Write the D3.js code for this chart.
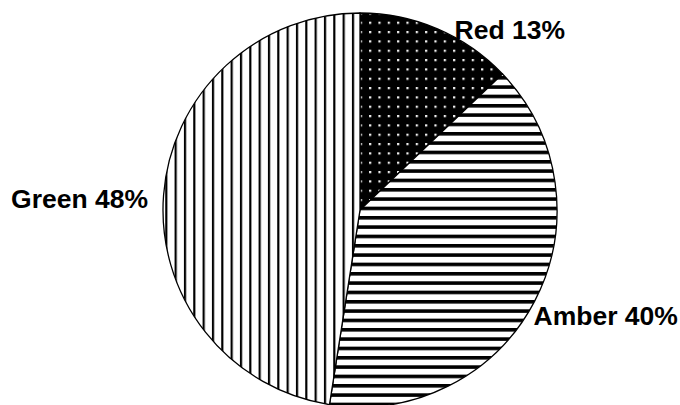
<!DOCTYPE html>
<html>
<head>
<meta charset="utf-8">
<script src="https://cdn.jsdelivr.net/npm/d3@7"></script>
<style>
  html, body { margin: 0; padding: 0; background: #fff; }
  svg { display: block; }
</style>
</head>
<body>
<svg id="chart" width="680" height="405"></svg>
<script>
// ---- data ----
const categories = ["Red", "Amber", "Green"];
const values = [13, 40, 48];
const labels = ["Red 13%", "Amber 40%", "Green 48%"];

// ---- layout ----
const W = 680, H = 405;
const cx = 360, cy = 210, R = 197;
const period = 28 / 3;
// label offsets relative to rim point at slice mid-angle: [dx, dy, anchor]
const labelLayout = [[17, 10, "start"], [-1, 24, "start"], [-15.5, 13.5, "end"]];

const svg = d3.select("#chart");
const defs = svg.append("defs");

// Red: black with white dots
const pDots = defs.append("pattern").attr("id", "pDots")
  .attr("patternUnits", "userSpaceOnUse")
  .attr("x", 382.4).attr("y", 45).attr("width", period).attr("height", period);
pDots.append("rect").attr("width", period).attr("height", period).attr("fill", "#000");
pDots.append("rect").attr("x", 0).attr("y", 0).attr("width", 2.2).attr("height", 2.2).attr("fill", "#f2f2f2");

// Amber: horizontal stripes
const pH = defs.append("pattern").attr("id", "pH")
  .attr("patternUnits", "userSpaceOnUse")
  .attr("x", 0).attr("y", 183.3).attr("width", period).attr("height", period);
pH.append("rect").attr("width", period).attr("height", period).attr("fill", "#fff");
pH.append("rect").attr("x", 0).attr("y", 0).attr("width", period).attr("height", 3.6).attr("fill", "#000");

// Green: vertical thin lines
const pV = defs.append("pattern").attr("id", "pV")
  .attr("patternUnits", "userSpaceOnUse")
  .attr("x", 355.9).attr("y", 0).attr("width", period).attr("height", period);
pV.append("rect").attr("width", period).attr("height", period).attr("fill", "#fff");
pV.append("rect").attr("x", 0).attr("y", 0).attr("width", 2.2).attr("height", period).attr("fill", "#000");

const fills = ["url(#pDots)", "url(#pH)", "url(#pV)"];

const pie = d3.pie().sort(null).value(d => d)(values);
const arc = d3.arc().innerRadius(0).outerRadius(R);

const g = svg.append("g").attr("transform", `translate(${cx},${cy})`);

g.selectAll("path.slice").data(pie).join("path")
  .attr("class", "slice")
  .attr("d", arc)
  .attr("fill", (d, i) => fills[i])
  .attr("stroke", "#000")
  .attr("stroke-width", 1.3)
  .attr("stroke-linejoin", "round");

g.selectAll("text.lbl").data(pie).join("text")
  .attr("class", "lbl")
  .attr("x", (d, i) => {
    const a = (d.startAngle + d.endAngle) / 2;
    return R * Math.sin(a) + labelLayout[i][0];
  })
  .attr("y", (d, i) => {
    const a = (d.startAngle + d.endAngle) / 2;
    return -R * Math.cos(a) + labelLayout[i][1];
  })
  .attr("text-anchor", (d, i) => labelLayout[i][2])
  .attr("font-family", "'Liberation Sans', Arial, sans-serif")
  .attr("font-weight", "bold")
  .attr("font-size", 26.5)
  .attr("fill", "#000")
  .text((d, i) => labels[i]);
</script>
</body>
</html>
